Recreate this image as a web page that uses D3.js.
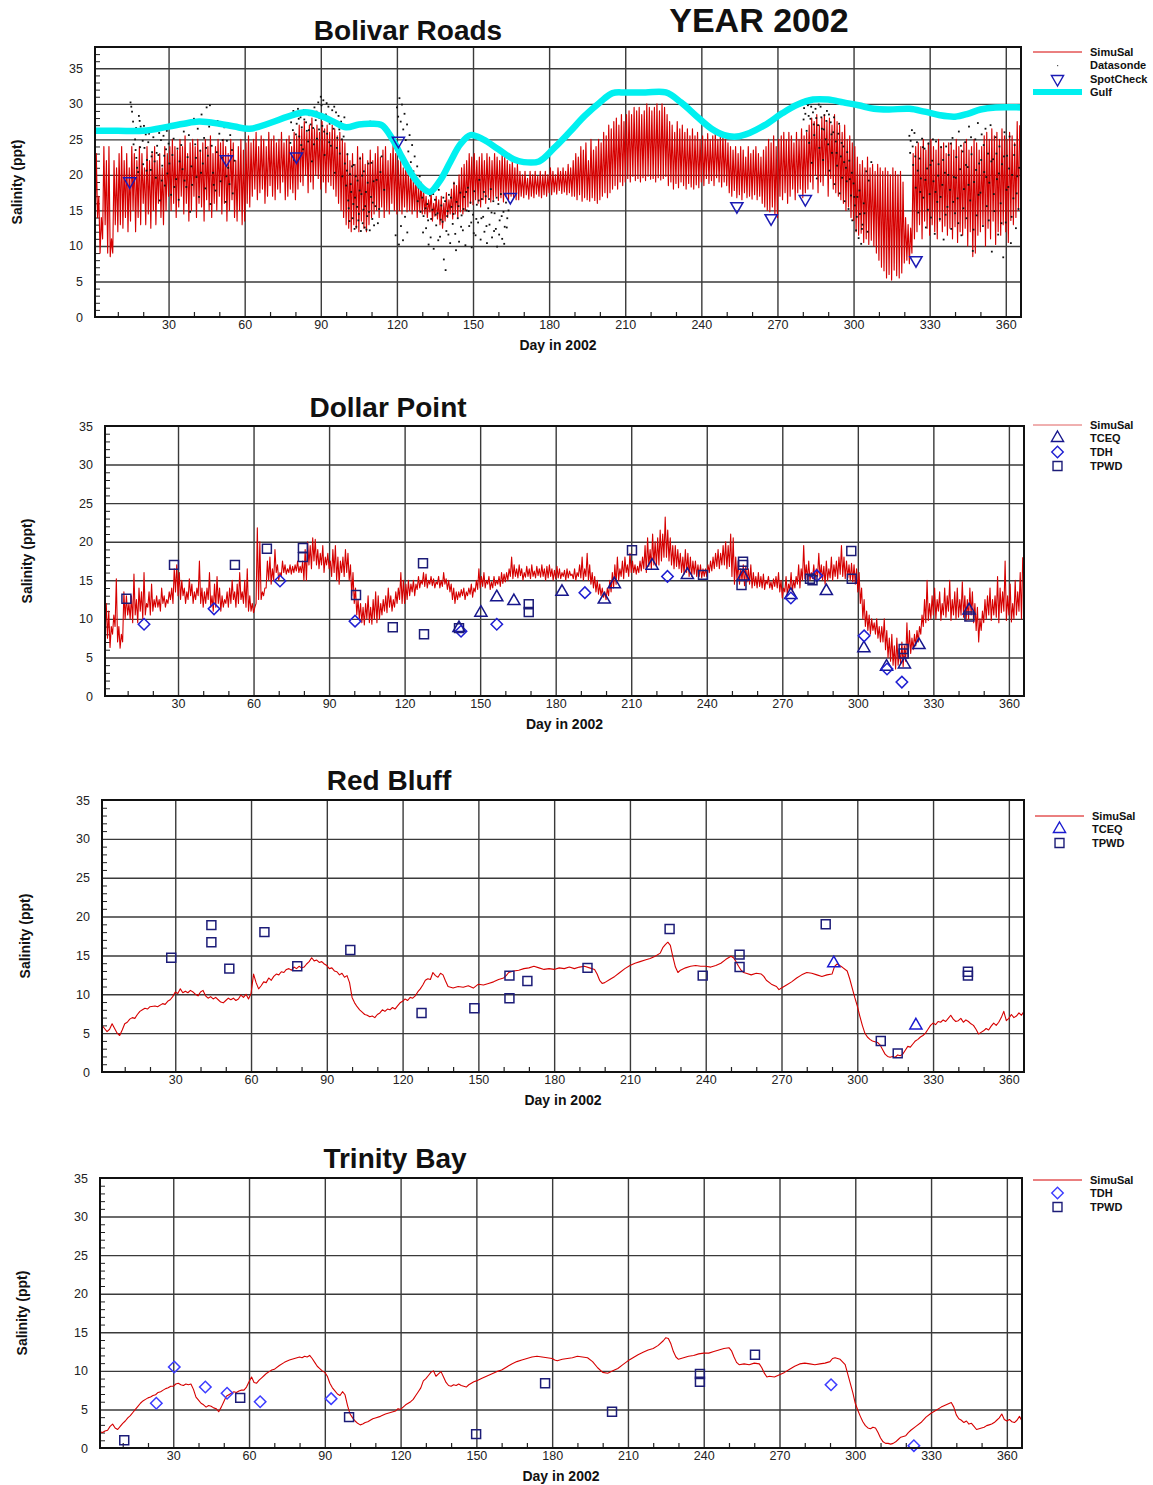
<!DOCTYPE html>
<html>
<head>
<meta charset="utf-8">
<script src="https://cdn.jsdelivr.net/npm/d3@7"></script>
<style>
body { margin: 0; background: #fff; }
</style>
</head>
<body>
<svg id="chart" width="1153" height="1485"></svg>
<script>
// ---- axis ticks ----
let xTicks = [30, 60, 90, 120, 150, 180, 210, 240, 270, 300, 330, 360];
let xMinor = [10, 20, 40, 50, 70, 80, 100, 110, 130, 140, 160, 170, 190, 200, 220, 230, 250, 260, 280, 290, 310, 320, 340, 350];
let yTicks = [0, 5, 10, 15, 20, 25, 30, 35];
let yMinor = [1, 2, 3, 4, 6, 7, 8, 9, 11, 12, 13, 14, 16, 17, 18, 19, 21, 22, 23, 24, 26, 27, 28, 29, 31, 32, 33, 34, 36, 37];

// ---- Bolivar Roads: simulated salinity, daily low / high ----
let brLo = [11,14,9,11,13,9,8.5,9,13,12,
  13,12.5,14,12,13.5,15,12,14,13,16,13,14.5,12.5,15,13,16,14,13,15,17,
  15,16,14,15.5,17,14.5,16,13.5,15,17,14,16,15.5,13.5,16.5,15,14,16,15,17,14.5,16,13.5,15,16.5,14,13.5,15,13,13.5,
  16,15.5,17,18,16.5,17.5,18,16,17,18.5,17,16.5,18,17.5,19,16.5,17,18,17.5,16.5,
  18,19,18.5,20,17.5,19,18,20,19.5,18,19,17.5,19,18.5,18,17,16,15,14,13,
  12.5,12,13,12.5,12,13.5,12.5,12,13,14,14.5,15,14,15.5,14,15,14.5,16,15,14.5,
  15,14.5,15.5,14.8,15,14.5,15,14,15,14.5,
  14.5,14,14.8,13.5,14.2,13.8,13,12.5,13.5,14,14.5,13.8,14.5,14,14.8,
  14.5,15,15.5,16,15.8,16.5,16,15.5,16.5,16,16.8,16.2,16.5,17,16.4,16.8,16.2,17,16.5,17,16.8,16.5,
  16.5,17,16.8,17.2,16.6,17,16.8,17.3,17,16.8,17.2,17,17.5,17.2,17.6,17.3,17.8,17.4,17.6,17.2,17.5,17,
  17,16.5,17.2,16.3,16.8,16.5,16.3,16.8,16.4,16,16.5,17,17.5,16.8,17.5,18,18.5,18,19,18.5,19,
  19.5,19,19.8,19.2,19.5,19,19.6,19.2,19.8,19.4,19.5,19,19.6,19.3,19.5,19.8,
  18.5,19,18,18.8,18.2,19,18.5,18,18.8,18.3,18,18.6,18.2,
  19,18.5,19.5,18.8,19.2,18.5,19.6,19,18.3,19,18.5,
  17.5,17,17.8,16.8,17.2,16.5,17.5,16.8,17,16.6,17.2,16.5,17,16,15.5,
  15,14.8,15.5,14.5,14,
  17,16.5,17.5,16,17,18,16.5,17.5,18,16.8,17.5,18,
  19,18,20,17.5,19,18.5,20,17,19.5,18,17.5,
  17,16.5,16,15,15.5,14,13.6,
  12,11.5,11.8,10.5,11,10.2,10.8,10,9,8,7,
  6.5,5.5,6,5.2,6.6,5.8,5.5,6.2,
  7.6,8,7.5,9,11,
  12,13,11,13.5,12.5,11.5,13,12,11,13.5,12,12.8,11.5,
  12.5,11,12.7,10.5,12,11.5,12.5,10,12,8.5,9,11.5,12,
  13,10,12.5,11,13.5,10.2,12,11.5,13,12,10.5,13.6,13,14,15];
let brHi = [23,17,14,24,22,24,11,22,21,23,
  24,22,23,21,24,23,22,24,23,21,24,22,23,24,22,23,21,24,23,24,
  25,24,23.5,25,24,25.5,23,24.5,25,24,25,23.5,24.5,25,24,25.5,23,24,25,24.5,25,24,23,25,24.5,22,24,25,23.5,24.5,
  25.5,24.5,25,26,24,25.5,25,24,26,25,25.5,24.5,25,26,24.5,25,25.5,24,26,25.5,
  27,26.5,27.5,26,27,28,26.5,27,26,27.5,26.5,27,26,27,26.5,25.5,26,25,24.5,23,
  22,23,21.5,24,22.5,23,21.5,22,23.5,22,23,24,22.5,23.5,24,22,23,24.5,23,22,
  22,21,22,20.5,21,19.5,20,18.5,19,18,
  17,16.5,17.5,16,17,16.5,17,16,17.5,16.5,18,19,18.5,20,21,
  21.5,22,23,22.5,23,22,22.5,23,22,23,22.5,22,23,22.5,22,23,22.5,22,21.5,22,21,21.5,
  20.5,20,20.5,19.5,20.5,20,20.5,19.8,20.5,20,20.5,20,21,20.5,20,21,20.5,21,20.5,21.5,21,22,
  23,22.5,24,23.5,24.5,22,25,23.5,24,25,24.5,26,25.5,27,26.5,27.5,28,27,28.5,27.5,28.5,
  29,28.5,29.5,29,29.5,28.5,29,30,29.5,29,29.5,30,29,30,29.5,28.5,
  27.5,27,26,27.5,26.5,27,26,26.5,25.5,26.5,25.5,26,25,
  25.5,25,25.8,25,25.5,26,25,25.5,25.8,25,24.5,
  24,23.5,24,23,24,23.5,22.5,24,23,23.5,24,23,22.5,23.5,24,
  25,24.5,25.5,24,25,
  25.5,26,25,26,25.5,24.5,26,25,26.5,25.5,26,27,
  28,27.5,28.5,27,28,28.5,27.5,28,27,28.5,27.5,
  27,26,27,25,25.5,24.5,24,
  22.5,21.5,22,21,22.5,21,21.5,20.5,21.5,21,20.5,
  21,20.5,20,21,20.5,20,20.5,19,
  14,13,12.5,23,24,
  24.5,24,25,23.5,24.5,25,24,23.5,25,24,24.5,23,24.5,
  24.5,23.5,25,24,23.5,24.5,25,23.5,24,25,24.5,23.5,24,
  25.5,26,25,26.5,25.5,26,25,26.5,25.5,25,26,25.5,24.5,27.5,27];

// ---- Bolivar Roads: datasonde readings [day, ppt] ----
let datasonde = [
  [15,30.2],[15.3,29.6],[15.6,28.9],[16,27.5],[16.2,24.3],[16.4,26.1],[16.8,25.0],[17,23.5],[17.2,26.6],[17.3,22.4],[17.6,21.0],[18,20.4],[18.3,28.3],[18.6,27.6],[18.8,23.9],[19,26.8],[19.4,25.9],[19.8,24.8],
  [20,21.5],[20.3,26.9],[20.5,23.8],[21,25.7],[21.3,20.6],[21.5,22.1],[22,24.6],[22.3,25.8],[22.5,26.3],[23,20.7],[23.3,22.6],[23.5,23.2],[24,25.3],[24.3,26.4],[24.5,21.9],[25,19.6],[25.3,23.1],[25.5,24.1],[26,22.8],[26.3,25.9],[26.5,16.4],[27,24.9],[27.3,19.2],[27.5,21.3],[28,25.5],[28.3,22.7],[28.5,18.5],[29,23.6],[29.3,26.2],[29.5,20.2],[30,24.4],
  [30.3,21.6],[31,17.2],[31.5,22.8],[32,25.1],[32.3,18.3],[33,19.4],[33.5,23.7],[34,16.5],[34.3,21.9],[35,24.2],[35.5,20.8],[36,26.1],[36.3,19.2],[37,18.3],[37.5,22.5],[37.8,27.1],[38,25.6],[38.5,14.8],[39,21.2],[39.3,18.6],[40,27.9],[40.5,24.3],[40.8,22.4],[41,19.7],[41.5,26.5],[42,16.9],[42.5,23.4],[42.8,20.3],[43,28.5],[43.5,21.6],[44,25.2],[44.5,18.1],[44.8,23.8],[45,29.5],[45.5,22.7],[46,26.8],[46.3,29.8],[46.5,15.9],[47,24.1],[47.5,20.3],[47.8,18.6],[48,27.3],[48.5,17.8],[49,23.2],[49.3,27.6],[50,25.8],[50.5,19.1],[51,22.4],[51.3,24.9],[52,26.7],[52.5,16.2],[52.8,19.8],[53,24.8],[53.5,21.0],[54,18.7],[54.3,25.6],[55,23.5],[55.3,17.4],[56,22.0],
  [78,24.5],[78.3,27.4],[79,26.3],[79.2,29.0],[79.5,22.1],[80,28.6],[80.2,25.7],[80.5,27.2],[81,29.3],[81.3,27.9],[81.5,25.4],[82,28.1],[82.3,24.2],[82.5,26.7],[83,23.6],[83.3,29.1],[83.5,27.8],[84,28.9],[84.2,27.4],[84.5,26.2],[85,24.7],[85.3,26.3],[85.5,28.4],[86,27.1],[86.3,29.0],[86.5,21.9],[87,26.6],[87.3,24.3],[87.5,29.5],[88,27.7],[88.3,28.9],[88.5,25.1],[89,30.2],[89.3,26.4],[89.5,28.0],[90,31.0],[90.3,29.8],[90.6,26.9],[90.8,28.4],[91,30.5],[91.3,26.1],[91.5,22.8],[92,28.5],[92.3,30.1],[92.5,25.8],[93,29.6],[93.3,24.6],[93.5,27.2],[94,24.1],[94.3,27.8],[94.5,29.1],[95,26.5],[95.3,29.6],[95.5,20.3],[96,28.8],[96.3,23.8],[96.5,25.2],[97,28.3],[97.3,26.4],[97.5,23.0],[98,27.5],[98.3,25.0],[98.5,19.8],[99,25.4],[99.3,28.1],[99.5,21.6],
  [100,18.5],[100.3,20.6],[100.5,22.9],[100.8,16.4],[101,15.3],[101.3,13.5],[101.5,20.1],[101.8,18.7],[102,17.6],[102.3,21.2],[102.5,13.9],[102.8,15.9],[103,21.4],[103.3,12.4],[103.5,16.8],[103.8,19.8],[104,12.7],[104.3,15.5],[104.5,19.2],[104.8,13.6],[105,14.5],[105.3,17.8],[105.5,22.3],[105.8,12.1],[106,17.3],[106.3,19.9],[106.5,13.2],[106.8,15.1],[107,20.5],[107.3,12.6],[107.5,15.6],[107.8,17.6],[108,12.3],[108.3,14.2],[108.5,18.9],[108.8,21.6],[109,14.8],[109.3,12.2],[109.5,27.5],[109.8,16.9],[110,21.7],[110.3,13.8],[110.5,16.1],[110.8,19.1],[111,12.9],[111.5,15.6],[112,19.3],[112.5,13.2],[113,15.2],[113.5,20.4],[114,22.6],[115,17.9],
  [119.5,11.5],[120,29.5],[120.5,28.2],[120.8,10.2],[121,30.8],[121.5,27.5],[121.6,12.8],[122,29.9],[122.4,10.8],[122.5,26.4],[123,28.6],[123.2,14.1],[123.5,24.9],[124,27.1],[124.1,11.9],[124.5,23.3],[125,25.6],[125.5,21.8],[126,24.2],[126.5,20.5],[127,22.6],[127.5,19.1],[128,21.2],[128.2,16.3],[128.5,18.2],[129,19.8],[129.3,14.8],
  [130,16.8],[130.3,11.9],[130.5,14.2],[131,17.7],[131.3,15.3],[131.5,12.5],[132,15.9],[132.3,13.6],[132.5,10.2],[133,17.1],[133.3,11.2],[133.5,13.8],[134,15.1],[134.3,17.3],[134.5,9.6],[135,16.5],[135.3,14.4],[135.5,12.9],[136,14.6],[136.3,10.8],[136.5,17.9],[137,11.3],[137.3,13.7],[137.5,15.7],[138,13.4],[138.3,16.8],[138.5,8.1],[139,16.3],[139.2,6.6],[139.5,12.1],[139.8,14.2],[140,14.9],[140.3,11.6],[140.5,17.2],[141,10.4],[141.3,16.8],[141.5,15.5],[142,13.1],[142.3,14.5],[142.5,18.8],[143,11.7],[143.3,9.4],[143.5,16.2],[144,13.9],[144.3,15.6],[144.5,10.6],[145,17.5],[145.3,12.7],[145.5,14.3],[146,12.2],[146.3,15.2],[146.5,16.9],[147,10.1],[147.3,17.6],[147.5,15.0],[148,18.2],[148.3,14.9],[148.5,12.8],[149,16.1],[149.3,13.3],[149.5,9.8],
  [150,14.4],[150.3,11.8],[150.5,17.7],[151,11.5],[151.3,13.8],[151.5,15.8],[152,13.3],[152.3,16.4],[152.5,19.3],[153,10.9],[153.3,13.9],[153.5,16.6],[154,14.1],[154.3,17.6],[154.5,12.0],[155,17.0],[155.3,12.8],[155.5,10.4],[156,15.3],[156.3,16.6],[156.5,13.0],[157,18.0],[157.3,14.7],[157.5,11.2],[158,16.3],[158.3,12.1],[158.5,14.6],[159,12.4],[159.3,16.8],[159.5,9.9],[160,15.9],[160.3,11.6],[160.5,13.6],[161,17.3],[161.3,14.2],[161.5,11.0],[162,14.8],[162.3,10.3],[162.5,12.7],[163,16.1],[163.3,12.6],[163.5,13.9],[164,15.0],
  [280,30.3],[280.3,27.8],[280.5,29.4],[281,28.6],[281.3,30.0],[281.5,26.2],[282,29.8],[282.3,28.3],[282.5,24.5],[283,27.9],[283.3,29.6],[283.5,21.7],[284,28.8],[284.3,27.1],[284.5,25.6],[285,29.3],[285.3,28.0],[285.5,19.5],[286,27.0],[286.3,29.9],[286.5,23.8],[287,29.6],[287.3,28.1],[287.5,26.5],[288,22.1],[288.3,26.4],[288.5,28.4],[289,25.0],[289.3,27.6],[289.5,29.0],[290,24.3],[290.3,28.5],[290.5,20.6],[291,27.4],[291.3,25.7],[291.5,23.1],[292,26.0],[292.3,28.1],[292.5,18.7],[293,24.7],[293.3,23.1],[293.5,21.3],[294,25.8],[294.3,27.2],[294.5,17.4],[295,22.6],[295.3,24.5],[295.5,19.6],[296,24.0],[296.3,21.8],[296.5,16.3],[297,21.0],[297.3,19.1],[297.5,23.2],[298,15.2],[298.3,22.0],[298.5,19.4],[299,17.1],[299.3,20.3],[299.5,13.6],
  [300,18.8],[300.3,16.9],[300.5,15.7],[301,12.2],[301.3,14.1],[301.5,16.9],[302,11.1],[302.3,17.8],[302.5,14.5],[303,10.3],[303.3,12.4],[303.5,13.0],[304,16.0],[304.3,14.6],[305,20.5],[305.5,12.0],[306,19.2],[307,21.8],
  [322,25.5],[322.3,23.1],[322.5,24.8],[323,26.3],[323.3,24.0],[323.5,21.4],[324,25.9],[324.3,22.6],[324.5,18.2],[325,24.6],[325.3,20.6],[325.5,14.7],[326,22.3],[326.3,17.6],[326.5,19.5],[327,25.1],[327.3,23.9],[327.5,16.8],[328,23.7],[328.3,19.3],[328.5,12.6],[329,20.9],[329.3,15.1],[329.5,24.4],[330,17.3],[330.3,21.4],[330.5,14.0],[331,22.0],[331.3,25.0],[331.5,19.1],[332,11.7],[332.3,17.6],[332.5,24.7],[333,16.2],[333.3,19.9],[333.5,21.5],[334,13.8],[334.3,16.9],[334.5,23.9],[335,18.6],[335.3,22.1],[335.5,10.9],[336,20.3],[336.3,14.4],[336.5,24.0],[337,15.5],[337.3,20.0],[337.5,22.8],[338,17.9],[338.3,24.4],[338.5,12.4],[339,25.2],[339.3,16.2],[339.5,19.7],
  [340,14.6],[340.3,19.6],[340.5,22.5],[341,16.7],[341.3,13.2],[341.5,26.1],[342,20.8],[342.3,24.1],[342.5,11.5],[343,23.3],[343.3,15.3],[343.5,18.0],[344,24.6],[344.3,21.4],[344.5,13.9],[345,21.1],[345.3,18.6],[345.5,26.8],[346,16.4],[346.3,25.3],[346.5,22.9],[347,9.3],[347.3,12.3],[347.5,19.0],[348,25.0],[348.3,20.7],[348.5,14.3],[349,27.3],[349.3,17.2],[349.5,21.6],[350,17.5],[350.3,22.1],[350.5,25.7],[351,12.8],[351.3,24.2],[351.5,20.4],[352,26.5],[352.3,19.7],[352.5,15.6],[353,23.0],[353.3,13.6],[353.5,18.9],[354,27.0],[354.3,21.9],[354.5,9.2],[355,22.2],[355.3,17.3],[355.5,14.9],[356,25.3],[356.3,23.0],[356.5,19.4],[357,11.6],[357.3,20.2],[357.5,24.0],[358,16.0],[358.3,13.2],[358.5,21.5],[359,8.4],[359.3,22.6],[359.5,26.0],[360,13.3],[360.3,17.9],[360.5,22.7],[361,18.3],[361.3,20.9],[361.5,25.4],[362,10.4],[362.3,14.1],[362.5,20.0],[363,16.7],[363.3,22.8],[363.5,24.2],[364,12.5],[364.3,17.4],[364.5,19.8],[365,15.2],[365.3,21.0]];

let brSpot = [[14.7,19.1],[52.8,22.2],[80.4,22.6],[120.6,24.8],[164.7,16.9],[254,15.6],[267.5,13.9],[281,16.6],[324.6,8.0]];

let gulf = [[1,26.2],[10,26.2],[20,26.2],[30,26.8],[36,27.2],[42,27.5],[50,27.2],[56,26.8],[62,26.5],[70,27.3],[77,28.2],[84,28.8],[90,28.3],[95,27.5],[100,26.7],[105,27.1],[110,27.2],[114,27.0],[118,25.2],[122,22.5],[126,20.0],[130,18.2],[133,17.6],[137,19.2],[141,21.8],[145,24.3],[149,25.6],[154,25.0],[160,23.6],[166,22.2],[170,21.8],[176,21.9],[182,23.8],[188,26.0],[194,28.3],[200,30.2],[205,31.5],[210,31.6],[218,31.6],[226,31.6],[232,30.2],[238,28.3],[244,26.5],[249,25.6],[254,25.4],[259,25.9],[265,27.0],[272,28.7],[278,29.9],[284,30.6],[290,30.6],[296,30.2],[302,29.8],[308,29.3],[314,29.2],[322,29.3],[328,28.9],[334,28.4],[340,28.2],[345,28.6],[350,29.2],[356,29.5],[366,29.5]];

// ---- Dollar Point: simulated salinity, daily low / high ----
let dpLo = [8,7.5,6.3,8,9,7,6.2,7,10,10.5,
  10,9.5,10.5,9.5,11,10,10.5,11.5,10.5,11,11.5,11.5,11,12,11.5,12,12.5,12,13.5,13,
  12.5,13,12,12.5,13,12,12.5,13,12,11.5,12,12.5,11.5,11,11.5,12,11,11.5,12,11.5,12,12.5,11.5,12,12.5,12,11.5,11,11,10.8,
  12,12.5,12.5,13,14,15,14.5,15,16,15,15.5,16,15.8,16,15.8,16,16.2,16,16,15,
  15,17,16.5,17.5,17,16.5,17,16,17,16.5,15.5,16,15,14.5,16,15.5,16,15,13,12,
  10.5,10,9.5,9.2,10,9.5,9.3,10,9.5,10,10.5,11,10.8,11.5,11,11.5,12,12.5,12,12,
  12.5,13,13.5,13,13.8,14,14.5,14.2,14,14.5,14.3,14,14.5,14,14.2,14.5,13.8,13.5,12.5,12,
  12.5,12.8,13,12.5,13,13.2,12.8,13.5,13.8,14,14.2,14,14.5,13.8,14,14.3,14.5,14.2,14.6,14.8,
  15,15.5,15.2,15.5,15.3,15.6,15,15.4,15.5,15.2,15.5,15.3,15.6,15.4,15.5,15,15.3,15.5,15,15.2,
  15.3,15.2,15.5,15,15.3,15.6,15.2,15,15.5,15.3,15,15.5,15,14.5,14,13.5,13.2,13,12.8,12.5,
  13,13.5,14,14.5,15,15.5,15.2,16,15.5,16,16,15.8,16,16.2,16.5,16,16.8,16.5,17,16.8,
  17,17.5,18,18,17.5,17,16.5,16.8,16.5,16,15.8,16,15.5,15.5,15.8,15.5,15.5,15.3,15.5,15.5,
  16,16.2,16.5,16.8,16.5,17,17,16.5,16.8,15.5,14.5,15,14.5,15,14.3,14.8,14.5,14,14.3,14,
  14.2,14,13.8,14.5,14,13.8,14.2,14,13.5,12.7,13.5,13,13.8,13.5,14,14.5,14,15,15.2,15,
  15,15.2,15,15.5,15.3,15,14.5,15,15.3,15,15.5,15.2,15.8,15.5,15.2,15.3,15,14.8,14.5,13.5,
  12,10,9,8.5,8,8.5,8,7.5,7,7,6,5,4.5,4,3.5,4,4.2,3.8,4.5,5,
  5.5,6,6.5,7,8,9,9.5,9.8,10,10.5,10,11,9.8,10.5,10.2,11,9.8,10.5,10,10.2,
  10.5,10.2,9.8,10,10.5,9.5,8.5,7,8.5,9.5,10,10.5,9.8,10.5,10.2,9.5,10.8,11,9.8,10.5,9.6,10,10.5,11,10];
let dpHi = [12,11,9,10.5,15.2,9,8,13.5,13,12,
  13,15.8,12.5,14,13.5,16,12,13.5,14.5,12.5,13,12.5,14,13,12.5,13.5,14,16.5,17,16,
  15,14,13.5,15.2,14.5,13.5,14,17.5,14,13.5,14,16,13,14.5,15.5,14,13,12.5,13.5,14,15,13.5,14.5,16,13.5,15,16.5,13,12,11.5,
  21.8,20,13.5,14,17.5,18,16.5,19,17,16,17.5,17,16.5,17,16.8,17,17.5,16.8,17.5,19,
  20,19.5,20.5,20.3,19,18.5,19.5,18,18.5,17.5,19,19.5,18,17.5,18,19,18.5,17,16,14,
  12.5,12,11.5,12,13,11.5,12.5,13.5,13,12,12.5,13,14,13,12.5,13.5,14,16,15,14.5,
  15,14.5,15,14.5,15.5,15,16,15.8,15,15.5,15.2,14.8,15.5,15,16,15.2,15,14.5,14,13.5,
  13.5,13.8,14,13.5,14,14.5,14,15,16.5,15.5,16,15,15.5,14.8,15.5,15,15.5,16,15.8,16,
  16.5,18,17,16.5,17,16.5,16,16.8,16.5,17,16.2,16.8,16.5,17,16.5,16.8,17,16.5,16.3,16.8,
  16.5,16,16.3,16.5,16.2,15.8,16.5,16,17,18,16.5,18.5,17,16,15.5,15,14.5,14,13.5,14,
  15,16,17,18,16.5,17.5,18,17,18.5,17.5,17,16.8,17.5,18,19.5,20.5,19,21,20,20.5,
  21.5,21,23.2,21.5,20.5,19.5,19.5,19,18.5,18,19,18.5,18,17.5,17.5,17,17,16.5,16.5,17,
  17.5,18,18.5,19,18.5,19.5,20,19.5,21,20.5,18,17.5,16.5,17,16.8,16.5,17,16,15.5,16,
  15.5,15.8,15,15.5,14.8,15.2,15.5,16,15,14,15.5,14.5,16,15,15.5,17,16.5,19.5,17,17.5,
  16,17,16.5,18.5,17,16.8,17.5,16.5,18,17,17.5,18,19.5,18,17.5,17,17.2,17,16.5,16,
  14,12.5,11,10.5,10,9.5,10,9,9,10,8.5,7.5,8,6.5,7.5,6,7,6.5,9.5,8.5,
  7.5,8,8.5,9,10.5,12.5,15,12,13,14,12.5,13.5,12,14,13,15,12.5,13.5,14,12.5,
  14.8,13,12.5,14,13.5,12,11.5,10,11,12.5,13,14,12.5,13,15.5,14,13.5,17.5,13,14.5,12,15,13.5,16,18];

let dpTCEQ = [[141.6,8.8],[150.3,10.8],[156.6,12.8],[163.4,12.3],[182.5,13.5],[199.3,12.5],[203.3,14.5],[218.3,16.9],[232.3,15.7],[254.5,15.5],[273.4,13.1],[287.5,13.6],[302.4,6.2],[311.4,3.8],[318.5,4.1],[324.3,6.6],[344.2,11.1]];
let dpTDH = [[16.5,9.3],[44.3,11.3],[70.5,14.9],[100.3,9.7],[142.4,8.4],[156.6,9.3],[191.6,13.4],[224.4,15.5],[273.4,12.7],[283.7,15.6],[302.5,7.8],[311.6,3.5],[317.5,1.8]];
let dpTPWD = [[9.5,12.6],[28.4,17.0],[52.6,17.0],[65.3,19.1],[79.6,19.2],[79.6,18.0],[100.7,13.1],[115.3,8.9],[127.3,17.2],[127.7,8.0],[141.6,8.8],[169.3,11.9],[169.3,10.9],[210.3,18.9],[238.5,15.7],[253.8,14.4],[254.4,17.0],[254.4,17.4],[281,15.2],[282,15.0],[297.4,18.8],[297.6,15.2],[318.2,6.1],[318.2,5.5],[344.3,10.3]];

// ---- Red Bluff ----
let rbSim = [[1,6.0],[2,5.6],[3,5.2],[4,5.5],[5,6.2],[6,5.6],[7,5.0],[8,4.7],[9,5.4],[10,6.2],[11,6.4],[12,6.8],[13,7.0],[14,6.9],[15,7.4],[16,7.8],[17,8.0],[18,8.2],[19,8.1],[20,8.4],[22,8.5],[23,8.4],[25,8.8],[26,8.7],[27,9.1],[28,9.3],[29,9.7],[30,10.3],[31,10.1],[32,10.7],[33,10.2],[34,10.4],[35,10.2],[36,10.5],[37,10.3],[38,10.0],[39,9.8],[40,10.3],[41,10.5],[42,9.8],[43,9.5],[44,9.7],[45,9.4],[46,9.6],[47,9.3],[48,9.0],[49,8.9],[50,9.2],[51,9.5],[52,9.3],[53,9.5],[54,9.2],[55,9.4],[56,9.9],[57,9.6],[58,10.0],[59,9.4],[60,10.1],[61,12.6],[62,11.5],[63,10.7],[64,11.1],[65,11.6],[66,11.5],[67,12.1],[68,11.8],[69,12.3],[70,12.6],[71,12.5],[72,12.9],[73,12.8],[74,13.2],[75,13.3],[76,13.1],[77,13.5],[78,13.3],[79,13.6],[80,13.4],[81,13.5],[82,13.9],[83,14.2],[84,14.7],[85,14.3],[86,14.4],[87,14.1],[88,14.2],[89,13.9],[90,13.7],[91,13.3],[92,13.4],[93,13.0],[94,12.9],[95,12.5],[96,12.7],[97,12.2],[98,12.4],[99,11.5],[100,9.6],[101,8.9],[102,8.4],[103,8.0],[104,7.7],[105,7.4],[106,7.3],[107,7.1],[108,7.2],[109,7.0],[110,7.4],[111,7.6],[112,8.0],[113,7.8],[114,8.1],[115,8.0],[116,8.3],[117,8.1],[118,8.5],[119,8.9],[120,9.1],[121,9.4],[122,9.2],[123,9.6],[124,9.5],[125,9.8],[126,10.3],[127,10.7],[128,11.2],[129,11.8],[130,12.0],[131,11.9],[132,12.8],[133,12.4],[134,12.2],[135,12.7],[136,12.5],[137,11.7],[138,11.0],[139,10.9],[140,10.8],[142,11.0],[144,10.9],[146,11.1],[148,10.8],[150,11.3],[152,11.2],[154,11.4],[156,11.6],[158,11.9],[160,12.1],[161,12.4],[162,12.8],[164,13.0],[166,13.1],[168,13.3],[170,13.4],[172,13.6],[174,13.4],[176,13.2],[178,13.3],[180,13.2],[182,13.4],[184,13.3],[186,13.5],[188,13.3],[190,13.5],[192,13.6],[194,13.4],[196,13.2],[197,12.6],[198,11.8],[199,11.4],[200,11.5],[202,11.9],[204,12.3],[206,12.8],[208,13.3],[210,13.7],[212,14.0],[214,14.2],[216,14.4],[218,14.6],[220,14.9],[222,15.3],[223,16.0],[224,16.4],[225,16.7],[226,16.3],[227,14.8],[228,13.5],[229,12.8],[230,13.1],[232,13.4],[234,13.6],[236,13.7],[238,13.6],[240,13.6],[242,13.5],[244,13.7],[246,14.0],[248,14.5],[250,14.9],[251,14.7],[252,14.2],[253,13.6],[254,13.1],[255,12.8],[256,12.7],[258,12.5],[260,12.7],[262,12.6],[263,12.3],[264,11.8],[266,11.3],[268,11.0],[269,10.6],[270,10.8],[272,11.2],[274,11.6],[276,12.1],[278,12.5],[280,12.8],[282,12.7],[284,12.5],[286,12.3],[288,12.5],[290,12.6],[291,13.6],[292,13.9],[294,13.5],[296,13.0],[297,12.0],[298,10.8],[299,9.6],[300,8.5],[301,7.2],[302,6.0],[303,5.0],[304,4.5],[305,4.2],[306,4.0],[307,3.9],[308,3.8],[309,3.5],[310,2.9],[311,2.3],[312,2.0],[313,1.9],[314,2.0],[315,1.9],[316,2.2],[317,2.1],[318,2.3],[319,2.8],[320,3.3],[321,3.2],[322,3.6],[323,4.0],[324,4.2],[325,4.5],[326,4.7],[327,5.0],[328,5.5],[329,6.0],[330,6.3],[331,6.1],[332,6.5],[333,6.4],[334,6.7],[335,6.5],[336,6.9],[337,7.3],[338,6.8],[339,6.5],[340,6.6],[341,6.9],[342,6.4],[343,6.7],[344,6.5],[345,6.2],[346,6.0],[347,5.5],[348,4.9],[349,5.1],[350,5.3],[351,5.6],[352,5.4],[353,5.9],[354,6.3],[355,6.0],[356,6.4],[357,7.0],[358,7.8],[359,6.6],[360,6.9],[361,7.4],[362,7.0],[363,7.2],[364,7.6],[365,7.3],[366,7.8]];
let rbTCEQ = [[290.7,14.0],[323.2,6.0]];
let rbTPWD = [[28.4,14.7],[44.3,18.9],[44.3,16.7],[51.4,13.3],[65.3,18.0],[78.3,13.6],[99.3,15.7],[127.5,7.6],[148.4,8.2],[162.3,12.4],[162.3,9.5],[169.4,11.7],[193.2,13.4],[225.7,18.4],[238.8,12.4],[253.4,15.1],[253.4,13.5],[287.5,19.0],[309.3,4.0],[316,2.4],[343.8,12.9],[343.8,12.4]];

// ---- Trinity Bay ----
let tbSim = [[1,2.1],[2,2.0],[3,2.2],[4,2.3],[5,2.8],[6,3.1],[7,2.6],[8,2.4],[9,2.8],[10,3.2],[11,3.5],[12,3.9],[13,4.2],[14,4.6],[15,5.0],[16,5.4],[17,5.8],[18,6.1],[19,6.3],[20,6.5],[21,6.6],[22,6.8],[23,6.9],[24,7.2],[25,7.3],[26,7.5],[27,7.7],[28,7.8],[29,8.0],[30,8.0],[31,8.3],[32,8.4],[33,8.2],[34,8.1],[35,8.3],[36,8.2],[37,8.3],[38,7.6],[39,6.6],[40,6.2],[41,5.8],[42,5.6],[43,5.3],[44,5.5],[45,5.4],[46,5.2],[47,5.1],[48,4.7],[49,5.3],[50,6.0],[51,6.7],[52,6.9],[53,7.1],[54,7.3],[55,7.2],[56,7.4],[57,7.5],[58,7.5],[59,7.9],[60,8.6],[61,9.2],[62,8.5],[63,8.4],[64,8.8],[65,9.1],[66,9.4],[67,9.7],[68,9.9],[69,10.1],[70,10.2],[72,10.7],[74,11.1],[76,11.4],[78,11.6],[80,11.8],[81,11.7],[82,11.9],[83,11.8],[84,12.0],[85,11.6],[86,11.1],[87,10.6],[88,10.3],[89,10.0],[90,9.8],[91,9.3],[92,8.4],[93,7.8],[94,7.4],[95,7.0],[96,6.8],[97,7.3],[98,6.9],[99,5.5],[100,4.4],[101,3.9],[102,3.5],[103,3.2],[104,3.0],[105,3.1],[106,3.3],[107,3.4],[108,3.6],[109,3.8],[110,3.9],[112,4.1],[114,4.4],[116,4.6],[118,4.8],[119,5.1],[120,5.0],[122,5.6],[124,6.0],[125,6.3],[126,6.8],[127,7.3],[128,7.8],[129,8.7],[130,9.0],[131,9.4],[132,9.8],[133,10.0],[134,9.3],[135,9.6],[136,9.9],[137,9.2],[138,8.5],[139,8.1],[140,8.0],[141,8.2],[142,8.1],[143,8.3],[144,8.1],[145,8.0],[146,7.9],[147,8.2],[148,8.4],[149,8.6],[150,8.7],[152,9.0],[154,9.3],[156,9.6],[158,9.9],[160,10.1],[162,10.5],[164,10.9],[166,11.2],[168,11.4],[170,11.6],[172,11.8],[174,11.9],[176,11.8],[178,11.7],[180,11.6],[181,11.4],[182,11.3],[184,11.5],[186,11.6],[188,11.7],[190,11.9],[192,11.8],[194,11.7],[196,11.2],[198,10.4],[200,9.8],[202,9.7],[204,10.0],[206,10.3],[208,10.8],[210,11.3],[212,11.7],[214,12.1],[216,12.4],[218,12.7],[220,12.9],[222,13.3],[224,13.9],[225,14.3],[226,14.2],[227,13.5],[228,12.5],[229,11.8],[230,11.5],[232,11.7],[234,11.9],[236,12.0],[238,12.2],[240,12.3],[242,12.3],[244,12.5],[246,12.7],[248,12.9],[250,13.0],[251,12.6],[252,11.8],[253,11.1],[254,10.8],[256,10.9],[258,10.8],[260,11.0],[262,10.9],[263,10.4],[264,9.7],[265,9.2],[266,9.3],[268,9.2],[270,9.5],[272,9.8],[274,10.2],[276,10.6],[278,10.9],[280,11.0],[282,10.9],[284,10.8],[286,10.9],[288,11.0],[290,11.2],[291,11.6],[292,11.7],[294,11.5],[296,10.8],[297,9.6],[298,8.4],[299,7.2],[300,5.8],[301,4.9],[302,4.1],[303,3.4],[304,2.9],[305,2.6],[306,2.5],[307,2.7],[308,2.6],[309,2.0],[310,1.3],[311,0.8],[312,0.6],[313,0.6],[314,0.5],[315,0.6],[316,0.8],[317,1.1],[318,1.4],[319,1.5],[320,1.6],[321,2.0],[322,2.3],[324,2.8],[326,3.3],[328,4.0],[330,4.5],[332,4.9],[334,5.3],[336,5.6],[338,5.9],[339,5.3],[340,4.3],[341,3.8],[342,3.6],[343,3.3],[344,3.5],[345,3.1],[346,3.2],[347,2.8],[348,2.4],[349,2.5],[350,2.6],[351,2.7],[352,2.9],[353,3.0],[354,3.1],[355,3.3],[356,3.6],[357,3.9],[358,4.4],[359,3.7],[360,3.5],[361,3.7],[362,3.4],[363,3.3],[364,3.6],[365,4.1],[366,3.5]];
let tbTDH = [[23.3,5.8],[30.4,10.5],[42.7,7.9],[51.3,7.1],[64.4,6.0],[92.5,6.4],[290.4,8.2],[323.2,0.3]];
let tbTPWD = [[10.6,1.0],[56.5,6.5],[99.6,4.0],[149.9,1.8],[177.2,8.4],[203.7,4.7],[238.5,9.6],[238.5,8.6],[260.3,12.1]];

// ---- styles ----
let fontFamily = "Arial, 'Liberation Sans', sans-serif";
let simColour = "#d60000";
let gridColour = "#3a3a3a";
let navy = "#1c1c78";
let tceqColour = "#16168c";
let spotColour = "#1a1ab4";

const svg = d3.select("#chart");

// turn a daily low/high list into a zig-zag trace
function tideTrace(lo, hi) {
    let pts = [];
    lo.forEach(function(v, i) {
        pts.push([i + 1, v]);
        if (hi[i] !== undefined) pts.push([i + 1.5, hi[i]]);
    });
    return pts;
}

function markerPath(kind) {
    if (kind === "square") return d3.symbol().type(d3.symbolSquare).size(80)();
    if (kind === "diamond") return d3.symbol().type(d3.symbolSquare).size(66)();
    return d3.symbol().type(d3.symbolTriangle).size(64)();
}
function markerRotate(kind) {
    if (kind === "diamond") return 45;
    if (kind === "down") return 180;
    return 0;
}

function drawPanel(p, idx) {
    let x = d3.scaleLinear().domain([1, 366]).range([p.left, p.right]);
    let y = d3.scaleLinear().domain([0, p.yMax]).range([p.bottom, p.top]);
    let g = svg.append("g");
    let w = p.right - p.left, h = p.bottom - p.top;

    svg.append("clipPath").attr("id", "clip" + idx)
        .append("rect").attr("x", p.left).attr("y", p.top).attr("width", w).attr("height", h);

    // grid lines
    g.append("g").attr("transform", "translate(0," + p.bottom + ")")
        .call(d3.axisBottom(x).tickValues(xTicks).tickSize(-h).tickFormat(""))
        .call(function(s) {
            s.select(".domain").remove();
            s.selectAll("line").attr("stroke", gridColour).attr("stroke-width", 1.4);
        });
    g.append("g").attr("transform", "translate(" + p.left + ",0)")
        .call(d3.axisLeft(y).tickValues(yTicks.filter(v => v > 0 && v < p.yMax)).tickSize(-w).tickFormat(""))
        .call(function(s) {
            s.select(".domain").remove();
            s.selectAll("line").attr("stroke", gridColour).attr("stroke-width", 1.4);
        });
    // minor ticks, inside
    g.append("g").attr("transform", "translate(0," + p.bottom + ")")
        .call(d3.axisBottom(x).tickValues(xMinor).tickSize(-5).tickFormat(""))
        .call(function(s) {
            s.select(".domain").remove();
            s.selectAll("line").attr("stroke", "#222").attr("stroke-width", 1.2);
        });
    g.append("g").attr("transform", "translate(" + p.left + ",0)")
        .call(d3.axisLeft(y).tickValues(yMinor.filter(v => v < p.yMax)).tickSize(-5).tickFormat(""))
        .call(function(s) {
            s.select(".domain").remove();
            s.selectAll("line").attr("stroke", "#222").attr("stroke-width", 1);
        });
    // tick labels
    g.append("g").attr("transform", "translate(0," + p.bottom + ")")
        .call(d3.axisBottom(x).tickValues(xTicks).tickSize(0).tickPadding(3))
        .call(function(s) {
            s.select(".domain").remove();
            s.selectAll("text").attr("font-size", 12.5).attr("fill", "#222").attr("font-family", fontFamily);
        });
    g.append("g").attr("transform", "translate(" + p.left + ",0)")
        .call(d3.axisLeft(y).tickValues(yTicks).tickSize(0).tickPadding(12))
        .call(function(s) {
            s.select(".domain").remove();
            s.selectAll("text").attr("font-size", 12.5).attr("fill", "#222").attr("font-family", fontFamily);
        });

    let plot = g.append("g").attr("clip-path", "url(#clip" + idx + ")");
    let line = d3.line().x(d => x(d[0])).y(d => y(d[1]));

    plot.append("path").datum(p.sim)
        .attr("d", line).attr("fill", "none")
        .attr("stroke", simColour).attr("stroke-width", p.simWidth)
        .attr("stroke-linejoin", "round");

    if (p.dots) {
        plot.selectAll("rect.ds").data(p.dots).enter().append("rect")
            .attr("class", "ds")
            .attr("x", d => x(d[0]) - 0.9).attr("y", d => y(d[1]) - 0.9)
            .attr("width", 1.8).attr("height", 1.8).attr("fill", "#111");
    }
    if (p.gulf) {
        plot.append("path").datum(p.gulf)
            .attr("d", d3.line().x(d => x(d[0])).y(d => y(d[1])).curve(d3.curveCatmullRom))
            .attr("fill", "none").attr("stroke", "#00f0f0").attr("stroke-width", 6.5);
    }

    p.markers.forEach(function(m) {
        g.selectAll(null).data(m.data).enter().append("path")
            .attr("d", markerPath(m.kind))
            .attr("transform", d => "translate(" + x(d[0]) + "," + y(d[1]) + ") rotate(" + markerRotate(m.kind) + ")")
            .attr("fill", "none").attr("stroke", m.colour).attr("stroke-width", 1.5);
    });

    // frame
    g.append("rect").attr("x", p.left).attr("y", p.top).attr("width", w).attr("height", h)
        .attr("fill", "none").attr("stroke", "#111").attr("stroke-width", 2);

    // titles
    g.append("text").attr("x", p.titleX).attr("y", p.titleY).attr("text-anchor", "middle")
        .attr("font-family", fontFamily).attr("font-weight", "bold").attr("font-size", 28)
        .attr("fill", "#111").text(p.title);
    g.append("text").attr("x", (p.left + p.right) / 2).attr("y", p.bottom + 33).attr("text-anchor", "middle")
        .attr("font-family", fontFamily).attr("font-weight", "bold").attr("font-size", 14)
        .attr("fill", "#111").text("Day in 2002");
    g.append("text").attr("transform", "translate(" + p.yLabelX + "," + ((p.top + p.bottom) / 2) + ") rotate(-90)")
        .attr("text-anchor", "middle").attr("dy", "0.35em")
        .attr("font-family", fontFamily).attr("font-weight", "bold").attr("font-size", 14)
        .attr("fill", "#111").text("Salinity (ppt)");

    // legend
    let lg = svg.append("g");
    p.legend.forEach(function(item, i) {
        let ly = p.legY + p.legStep[i];
        if (item.kind === "line") {
            lg.append("line").attr("x1", p.legX).attr("x2", p.legX + 49).attr("y1", ly).attr("y2", ly)
                .attr("stroke", item.colour).attr("stroke-width", item.width);
        } else if (item.kind === "dot") {
            lg.append("rect").attr("x", p.legX + 24).attr("y", ly).attr("width", 1.2).attr("height", 1.2).attr("fill", "#555");
        } else {
            lg.append("path").attr("d", markerPath(item.kind))
                .attr("transform", "translate(" + (p.legX + 24.5) + "," + ly + ") rotate(" + markerRotate(item.kind) + ")")
                .attr("fill", "none").attr("stroke", item.colour).attr("stroke-width", 1.4);
        }
        lg.append("text").attr("x", p.legX + 57).attr("y", ly).attr("dy", "0.36em")
            .attr("font-family", fontFamily).attr("font-weight", "bold").attr("font-size", 11)
            .attr("fill", "#111").text(item.label);
    });
}

let panels = [
    {title: "Bolivar Roads", titleX: 408, titleY: 40, left: 95, right: 1021, top: 47, bottom: 317, yMax: 38, yLabelX: 17,
     sim: tideTrace(brLo, brHi), simWidth: 1.15, dots: datasonde, gulf: gulf,
     markers: [{kind: "down", data: brSpot, colour: spotColour}],
     legX: 1033, legY: 52, legStep: [0, 13, 27, 40],
     legend: [{label: "SimuSal", kind: "line", colour: simColour, width: 1},
              {label: "Datasonde", kind: "dot"},
              {label: "SpotCheck", kind: "down", colour: spotColour},
              {label: "Gulf", kind: "line", colour: "#00f0f0", width: 6}]},
    {title: "Dollar Point", titleX: 388, titleY: 417, left: 105, right: 1024, top: 426, bottom: 696, yMax: 35, yLabelX: 27,
     sim: tideTrace(dpLo, dpHi), simWidth: 1.1,
     markers: [{kind: "up", data: dpTCEQ, colour: tceqColour},
               {kind: "diamond", data: dpTDH, colour: "#1e1ed2"},
               {kind: "square", data: dpTPWD, colour: navy}],
     legX: 1033, legY: 425, legStep: [0, 13, 27, 41],
     legend: [{label: "SimuSal", kind: "line", colour: "#e06060", width: 1},
              {label: "TCEQ", kind: "up", colour: tceqColour},
              {label: "TDH", kind: "diamond", colour: "#1e1ed2"},
              {label: "TPWD", kind: "square", colour: navy}]},
    {title: "Red Bluff", titleX: 389, titleY: 790, left: 102, right: 1024, top: 800, bottom: 1072, yMax: 35, yLabelX: 25,
     sim: rbSim, simWidth: 1.1,
     markers: [{kind: "up", data: rbTCEQ, colour: "#1a1ad0"},
               {kind: "square", data: rbTPWD, colour: navy}],
     legX: 1035, legY: 816, legStep: [0, 13, 27],
     legend: [{label: "SimuSal", kind: "line", colour: simColour, width: 1},
              {label: "TCEQ", kind: "up", colour: "#1a1ad0"},
              {label: "TPWD", kind: "square", colour: navy}]},
    {title: "Trinity Bay", titleX: 395, titleY: 1168, left: 100, right: 1022, top: 1178, bottom: 1448, yMax: 35, yLabelX: 22,
     sim: tbSim, simWidth: 1.1,
     markers: [{kind: "diamond", data: tbTDH, colour: "#3c3cff"},
               {kind: "square", data: tbTPWD, colour: navy}],
     legX: 1033, legY: 1180, legStep: [0, 13, 27],
     legend: [{label: "SimuSal", kind: "line", colour: simColour, width: 1},
              {label: "TDH", kind: "diamond", colour: "#3c3cff"},
              {label: "TPWD", kind: "square", colour: navy}]}
];

panels.forEach(drawPanel);

svg.append("text").attr("x", 759).attr("y", 32).attr("text-anchor", "middle")
    .attr("font-family", fontFamily).attr("font-weight", "bold").attr("font-size", 34)
    .attr("fill", "#111").text("YEAR 2002");
</script>
</body>
</html>
